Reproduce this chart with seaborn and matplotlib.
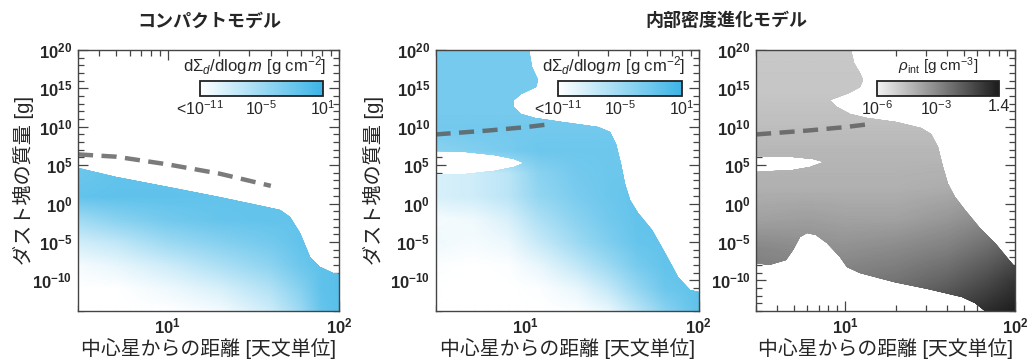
import numpy as np
import matplotlib
matplotlib.use('Agg')
import matplotlib.pyplot as plt
import seaborn as sns
from matplotlib.colors import LinearSegmentedColormap
from matplotlib.patches import Polygon
from matplotlib.ticker import FixedLocator, FuncFormatter, NullFormatter

# ---- data (x in AU, mass as log10 m [g]) ----
# compact model: log10 dSigma/dlogm on a coarse grid
x_c = [3, 5, 10, 20, 40, 60, 80, 100]
m_c = [-14, -11, -8, -5, -2, 1, 4, 7]
dens_c = [
    [-11.0, -11.0, -11.0, -10.4, -8.0, -5.0, -1.6, -0.8],
    [-11.0, -11.0, -10.0, -8.6, -6.2, -3.6, -1.2, -0.8],
    [-10.4, -9.6, -8.0, -6.0, -4.0, -2.0, -1.2, -0.8],
    [-8.2, -7.2, -5.0, -3.6, -2.4, -1.4, -1.2, -0.8],
    [-5.2, -3.8, -2.4, -1.6, -1.4, -1.4, -1.2, -0.8],
    [-1.4, -1.2, -1.2, -1.4, -1.4, -1.4, -1.4, -1.4],
    [-2.0, -1.4, -1.4, -1.4, -1.4, -1.4, -1.4, -1.4],
    [-2.0, -1.4, -1.4, -1.4, -1.4, -1.4, -1.4, -1.4],
]
# upper edge of the compact-model distribution
edge_c_x = [3, 5, 10, 20, 40, 45, 52, 59, 68, 77, 92, 100]
edge_c_m = [4.6, 3.5, 2.2, 0.9, -0.6, -0.9, -1.7, -3.9, -7.0, -8.3, -9.1, -9.2]
# dashed line, compact model
dash_c_x = [3, 5, 10, 20, 40]
dash_c_m = [6.4, 6.1, 5.1, 3.9, 2.3]

# evolving internal density model: log10 dSigma/dlogm
x_e = [3, 5, 8, 12, 20, 30, 45, 65, 100]
m_e = [-14, -11, -8, -5, -2, 1, 4, 7, 10, 14, 20]
dens_e = [
    [-11.0, -11.0, -11.0, -11.0, -10.8, -9.8, -6.8, -3.8, -1.2],
    [-11.0, -11.0, -11.0, -10.8, -9.6, -7.4, -4.4, -2.0, -1.2],
    [-10.8, -11.0, -10.8, -9.6, -7.2, -5.0, -2.6, -1.4, -1.2],
    [-10.0, -10.4, -9.8, -7.6, -5.0, -3.2, -1.6, -1.4, -1.4],
    [-10.4, -10.0, -8.6, -6.0, -3.8, -2.4, -1.4, -1.4, -1.4],
    [-8.6, -8.0, -6.8, -4.4, -2.8, -2.0, -1.4, -1.4, -1.4],
    [-8.6, -8.0, -6.8, -3.8, -2.4, -2.0, -2.0, -2.0, -2.0],
    [-3.8, -3.2, -2.6, -2.0, -2.0, -2.0, -2.4, -2.4, -2.4],
    [-2.4, -2.4, -2.4, -2.4, -2.4, -2.4, -2.4, -2.4, -2.4],
    [-2.6, -2.6, -2.6, -2.6, -2.6, -2.6, -2.6, -2.6, -2.6],
    [-2.6, -2.6, -2.6, -2.6, -2.6, -2.6, -2.6, -2.6, -2.6],
]
# visible outline of the blue distribution
edge_e_x = [3, 3, 4.5, 6.5, 8.5, 9.8, 8.5, 6.5, 4.5, 3, 3, 10.5, 10.8, 11.8, 11.5,
            9.4, 8.5, 8.5, 9.4, 11.3, 16.1, 26.2, 30.6, 33.5, 35.8, 37.4, 40,
            44.7, 53.5, 63.8, 76, 89, 100, 100]
edge_e_m = [-14, 3.8, 3.9, 4.3, 4.8, 5.3, 5.8, 6.3, 6.7, 6.9, 20, 20, 17.8, 16.1, 15.2,
            14.3, 13.5, 12.6, 11.7, 11.1, 10.65, 10.0, 9.35, 7.8, 5.2, 2.6, 0.43,
            -1.3, -3.5, -6.5, -9.6, -11.3, -11.5, -14]

# internal density log10 rho_int [g cm^-3]
x_r = [3, 6, 10, 20, 40, 70, 100]
m_r = [-14, -10, -6, -2, 2, 6, 10, 14, 20]
rho_r = [
    [-2.2, -2.2, -2.2, -1.8, -1.0, -0.3, 0.1],
    [-2.6, -2.5, -2.6, -2.4, -1.9, -1.2, -0.6],
    [-2.9, -3.1, -3.2, -3.0, -2.7, -2.1, -1.6],
    [-3.7, -3.6, -3.7, -3.7, -3.4, -3.0, -2.6],
    [-4.1, -4.1, -4.1, -4.1, -4.0, -3.7, -3.4],
    [-4.25, -4.25, -4.25, -4.25, -4.25, -4.1, -3.9],
    [-4.5, -4.5, -4.5, -4.5, -4.5, -4.5, -4.5],
    [-4.7, -4.7, -4.7, -4.7, -4.7, -4.7, -4.7],
    [-4.8, -4.8, -4.8, -4.8, -4.8, -4.8, -4.8],
]
# sharp outline of the region where dust exists
edge_r_x = [3, 3, 3.76, 4.94, 6.2, 7.5, 6.5, 4.94, 3, 3, 10.9, 11.3, 12.3, 12.8,
            12.3, 10.5, 8.2, 8.96, 10.7, 13.5, 20, 28, 32.2, 35.3, 37.8, 40.4,
            44.3, 50.8, 61, 76.6, 92, 100, 100, 66.8, 58.3, 48.5, 30.7, 19.5,
            12.3, 10.3, 9.4, 7.8, 6.8, 5.94, 5.42, 4.94, 4.5, 3.57]
edge_r_m = [-7.8, 4.13, 4.22, 4.43, 4.78, 5.43, 5.8, 6.0, 6.2, 20, 20, 18.3, 17.0,
            16.1, 15.2, 14.4, 13.5, 12.6, 11.7, 11.1, 10.6, 9.8, 9.1, 7.4, 4.8,
            2.6, 0.87, -0.87, -3.0, -5.2, -7.4, -8.3, -14, -14, -13.0, -12.2,
            -11.1, -10.2, -9.1, -8.26, -7.0, -5.2, -4.1, -3.9, -4.35, -6.1, -7.4,
            -8.0]
# dashed line, evolving model
dash_e_x = [3, 6, 10, 14]
dash_e_m = [9.0, 9.5, 9.95, 10.35]

x_minor = [3, 4, 5, 6, 7, 8, 9, 20, 30, 40, 50, 60, 70, 80, 90]

# ---- style ----
sns.set_theme(style='ticks')
plt.rcParams['font.family'] = ['Liberation Sans', 'Noto Sans CJK JP']
plt.rcParams['mathtext.fontset'] = 'custom'
plt.rcParams['mathtext.rm'] = 'Liberation Sans'
plt.rcParams['mathtext.it'] = 'Liberation Sans:italic'
plt.rcParams['mathtext.bf'] = 'Liberation Sans:bold'
plt.rcParams['axes.facecolor'] = 'white'

blue = LinearSegmentedColormap.from_list('dust', ['#ffffff', '#3cb4e6'])
grey = LinearSegmentedColormap.from_list('rho', ['#f2f2f2', '#1c1c1c'])


def field(xn, mn, vals):
    lx = np.linspace(np.log10(3), 2, 260)
    lm = np.linspace(-14, 20, 340)
    v = np.array(vals, float)
    rows = np.array([np.interp(lx, np.log10(xn), r) for r in v])
    z = np.array([np.interp(lm, mn, rows[:, j]) for j in range(lx.size)]).T
    return 10 ** lx, 10 ** lm, z


def draw_field(ax, xn, mn, vals, ex, em, cmap, vmin, vmax):
    X, Y, Z = field(xn, mn, vals)
    mesh = ax.pcolormesh(X, Y, Z, cmap=cmap, vmin=vmin, vmax=vmax,
                         shading='gouraud', rasterized=True)
    poly = Polygon(np.column_stack([ex, 10.0 ** np.array(em)]), closed=True,
                   transform=ax.transData, facecolor='none', edgecolor='none')
    mesh.set_clip_path(poly)
    return mesh


def pow_fmt(v, pos):
    return r'$\mathbf{10^{%d}}$' % int(round(np.log10(v)))


def style(ax, ylabel_x=None):
    ax.set_xscale('log')
    ax.set_yscale('log')
    ax.set_xlim(3, 100)
    ax.set_ylim(1e-14, 1e20)
    ax.xaxis.set_major_locator(FixedLocator([10, 100]))
    ax.xaxis.set_minor_locator(FixedLocator(x_minor))
    ax.xaxis.set_major_formatter(FuncFormatter(pow_fmt))
    ax.xaxis.set_minor_formatter(NullFormatter())
    ax.yaxis.set_major_locator(FixedLocator(10.0 ** np.arange(-10, 21, 5)))
    ax.yaxis.set_minor_locator(FixedLocator(10.0 ** np.arange(-14, 21)))
    ax.yaxis.set_major_formatter(FuncFormatter(pow_fmt))
    ax.yaxis.set_minor_formatter(NullFormatter())
    ax.tick_params(which='both', direction='in', top=True, right=True,
                   color='#444444', width=0.9)
    ax.tick_params(which='major', length=7, labelsize=12, pad=4)
    ax.tick_params(which='minor', length=4)
    for s in ax.spines.values():
        s.set_linewidth(1.0)
        s.set_color('#444444')
    ax.set_xlabel('中心星からの距離 [天文単位]', fontsize=14.3, labelpad=1)
    if ylabel_x is not None:
        ax.set_ylabel('ダスト塊の質量 [g]', fontsize=14.5)
        ax.yaxis.set_label_coords(ylabel_x, 0.5)


def colorbar(ax, mesh, ticks, labels, title, ha, size):
    cax = ax.inset_axes([0.467, 0.822, 0.47, 0.06])
    cb = plt.gcf().colorbar(mesh, cax=cax, orientation='horizontal')
    cb.set_ticks(ticks)
    cb.set_ticklabels(labels)
    cax.tick_params(length=0, labelsize=11.5, pad=2)
    cb.outline.set_linewidth(1.3)
    cb.outline.set_edgecolor('#222222')
    xt = 1.03 if ha == 'right' else 0.5
    cax.text(xt, 1.25, title, transform=cax.transAxes, ha=ha, va='bottom',
             fontsize=size)


fig = plt.figure(figsize=(10.33, 3.63), dpi=100)
ax1 = fig.add_axes([0.0755, 0.1433, 0.2527, 0.719])
ax2 = fig.add_axes([0.4216, 0.1433, 0.2546, 0.719])
ax3 = fig.add_axes([0.7319, 0.1433, 0.2507, 0.719])

dash_style = dict(color='#5a5a5a', alpha=0.8, lw=3.2, linestyle=(0, (3.4, 1.9)))

m1 = draw_field(ax1, x_c, m_c, dens_c, edge_c_x + [100, 3],
                edge_c_m + [-14, -14], blue, -11, 1)
sns.lineplot(x=dash_c_x, y=10.0 ** np.array(dash_c_m), ax=ax1, **dash_style)
style(ax1, -0.169)
colorbar(ax1, m1, [-11, -5, 1], [r'<$10^{-11}$', r'$10^{-5}$', r'$10^{1}$'],
         r'd$\Sigma_d$/dlog$\,m$ [g cm$^{-2}$]', 'right', 12)

m2 = draw_field(ax2, x_e, m_e, dens_e, edge_e_x, edge_e_m, blue, -11, 1)
sns.lineplot(x=dash_e_x, y=10.0 ** np.array(dash_e_m), ax=ax2, **dash_style)
style(ax2, -0.196)
colorbar(ax2, m2, [-11, -5, 1], [r'<$10^{-11}$', r'$10^{-5}$', r'$10^{1}$'],
         r'd$\Sigma_d$/dlog$\,m$ [g cm$^{-2}$]', 'right', 12)

m3 = draw_field(ax3, x_r, m_r, rho_r, edge_r_x, edge_r_m, grey, -6, np.log10(1.4))
sns.lineplot(x=dash_e_x, y=10.0 ** np.array(dash_e_m), ax=ax3, **dash_style)
style(ax3)
colorbar(ax3, m3, [-6, -3, np.log10(1.4)], [r'$10^{-6}$', r'$10^{-3}$', '1.4'],
         r'$\rho_{\mathrm{int}}$ [g cm$^{-3}$]', 'center', 11)

fig.text(0.203, 0.94, 'コンパクトモデル', ha='center', va='center',
         fontsize=13, fontweight='bold')
fig.text(0.703, 0.94, '内部密度進化モデル', ha='center', va='center',
         fontsize=13, fontweight='bold')

fig.savefig('out.png', dpi=100)
